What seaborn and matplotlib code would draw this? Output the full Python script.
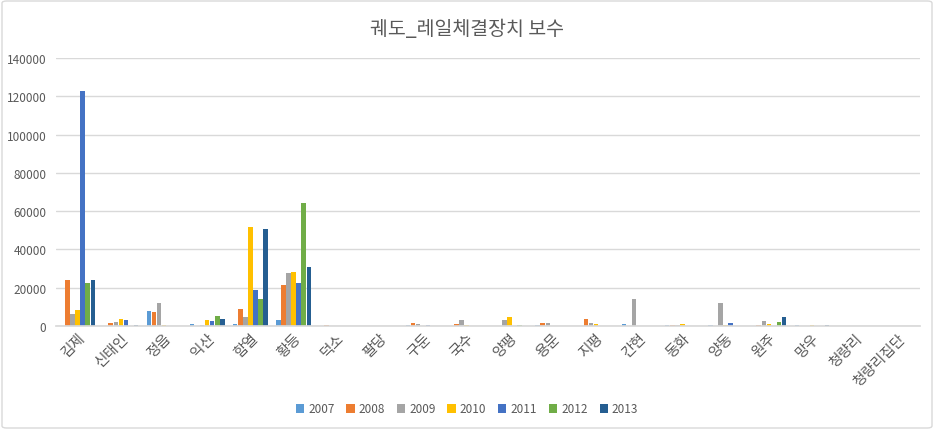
import matplotlib
matplotlib.use("Agg")
import matplotlib.pyplot as plt
import seaborn as sns
import pandas as pd
from matplotlib.patches import FancyBboxPatch

categories = ["김제", "신태인", "정읍", "익산", "함열", "황등", "덕소", "팔당", "구둔", "국수",
              "양평", "용문", "지평", "간현", "동화", "양동", "원주", "망우", "청량리", "청량리집단"]
years = ["2007", "2008", "2009", "2010", "2011", "2012", "2013"]

v2007 = [0, 0, 8000, 1200, 1200, 3300, 0, 0, 700, 0, 0, 700, 0, 1200, 700, 700, 0, 700, 0, 0]
v2008 = [24000, 1700, 7500, 0, 9000, 21600, 700, 0, 1700, 1200, 0, 1700, 3800, 0, 700, 0, 700, 0, 0, 0]
v2009 = [6400, 2250, 12200, 700, 4900, 27800, 0, 0, 1200, 3300, 3300, 1700, 1700, 14300, 700, 12200, 2800, 0, 0, 0]
v2010 = [8500, 3800, 700, 3300, 51800, 28300, 0, 0, 0, 700, 4900, 0, 1200, 0, 1200, 700, 1200, 700, 0, 0]
v2011 = [122900, 3300, 0, 2800, 19000, 22600, 0, 0, 700, 0, 0, 0, 0, 0, 0, 1700, 0, 0, 0, 0]
v2012 = [22600, 0, 0, 5400, 14200, 64400, 0, 0, 0, 0, 700, 0, 0, 0, 0, 0, 2250, 0, 0, 0]
v2013 = [24000, 700, 0, 3800, 50800, 31000, 0, 0, 0, 0, 0, 0, 0, 0, 0, 0, 4900, 700, 0, 0]

series = [v2007, v2008, v2009, v2010, v2011, v2012, v2013]
colors = ["#5B9BD5", "#ED7D31", "#A5A5A5", "#FFC000", "#4472C4", "#70AD47", "#255E91"]

rows = []
for y, vals in zip(years, series):
    for c, v in zip(categories, vals):
        rows.append({"역": c, "연도": y, "값": v})
df = pd.DataFrame(rows)

sns.set_theme(style="white")
plt.rcParams['font.family'] = ['Noto Sans CJK KR', 'DejaVu Sans']

fig = plt.figure(figsize=(9.34, 4.31), dpi=100)
ax = fig.add_axes([56/934, 1 - 327/431, 864/934, 268/431])

sns.barplot(data=df, x="역", y="값", hue="연도", order=categories, hue_order=years,
            palette=colors, width=0.82, gap=0.12, ax=ax, legend=True, saturation=1,
            linewidth=0)
for p in ax.patches:
    p.set_snap(True)

ax.set_ylim(0, 140000)
ax.set_xlim(-0.5, len(categories) - 0.5)
ax.set_yticks(range(0, 140001, 20000))
ax.yaxis.grid(True, color="#D9D9D9", linewidth=1)
ax.set_axisbelow(True)
for s in ["top", "right", "left"]:
    ax.spines[s].set_visible(False)
ax.spines["bottom"].set_color("#D9D9D9")
ax.set_xlabel("")
ax.set_ylabel("")
ax.tick_params(axis="both", length=0, colors="#595959")
ax.tick_params(axis="y", pad=7, labelsize=8.5)
plt.setp(ax.get_xticklabels(), rotation=45, ha="right", rotation_mode="anchor", fontsize=10.5)

fig.text(0.5, 1 - 30/431, "궤도_레일체결장치 보수", ha="center", va="center",
         fontsize=14, color="#595959")

handles, labels = ax.get_legend_handles_labels()
ax.legend_.remove()
fig.legend(handles, labels, loc="center", bbox_to_anchor=(0.5, 1 - 410/431), ncol=7,
           frameon=False, fontsize=8.5, handlelength=0.7, handleheight=0.7,
           columnspacing=1.0, handletextpad=0.35, labelcolor="#595959")

border = FancyBboxPatch((2/934, 2/431), 930/934, 427/431, boxstyle="round,pad=0,rounding_size=0.005",
                        transform=fig.transFigure, fill=False, edgecolor="#D9D9D9", linewidth=1)
fig.patches.append(border)

fig.savefig("out.png", dpi=100)
